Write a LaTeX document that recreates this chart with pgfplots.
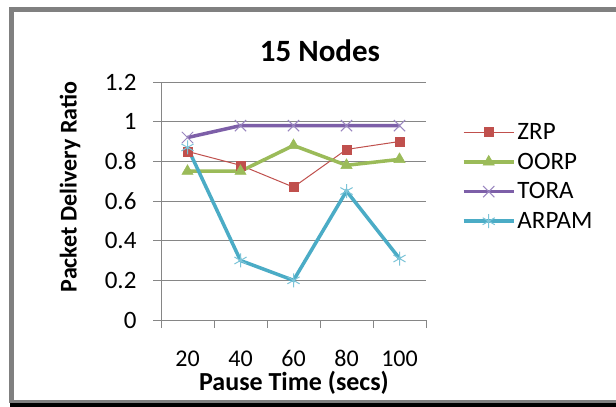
\documentclass[border=0pt]{standalone}
\usepackage{fontspec}
\setmainfont{Carlito}
\usepackage{pgfplots}
\pgfplotsset{compat=1.18}
\definecolor{zrp}{HTML}{C0504D}
\definecolor{oorp}{HTML}{9BBB59}
\definecolor{tora}{HTML}{7D5FA8}
\definecolor{toramark}{HTML}{9A86C0}
\definecolor{arpam}{HTML}{4BACC6}
\definecolor{arpammark}{HTML}{7CC4D8}
\definecolor{gridc}{HTML}{868686}
\definecolor{framec}{HTML}{808080}
\begin{document}
\begin{tikzpicture}
\path[use as bounding box] (0pt,0pt) rectangle (616pt,407pt);
\fill[white] (0pt,0pt) rectangle (616pt,407pt);
\fill[black] (10pt,0pt) rectangle (616pt,4pt);
\fill[framec] (9pt,4pt) rectangle (616pt,7pt);
\fill[framec] (9pt,4pt) rectangle (14pt,400pt);
\fill[framec] (9pt,395pt) rectangle (616pt,400pt);
\node[anchor=base, inner sep=0pt, font=\bfseries\fontsize{31}{36}\selectfont] at (320pt,345pt) {15 Nodes};
\node[rotate=90,font=\bfseries\fontsize{24}{28}\selectfont] at (70pt,220pt) {Packet Delivery Ratio};
\node[anchor=base, inner sep=0pt, font=\bfseries\fontsize{26}{30}\selectfont] at (294pt,16pt) {Pause Time (secs)};
\begin{axis}[
  at={(161pt,87pt)}, anchor=south west, scale only axis,
  width=265pt, height=238pt,
  xmin=-0.5, xmax=4.5, ymin=0, ymax=1.2,
  axis x line=bottom, axis y line=left,
  axis line style={-, draw=gridc, line width=0.8pt},
  tick align=outside,
  ytick={0,0.2,0.4,0.6,0.8,1,1.2},
  yticklabels={0,0.2,0.4,0.6,0.8,1,1.2},
  ymajorgrids, grid style={draw=gridc, line width=0.8pt},
  xtick={-0.5,0.5,1.5,2.5,3.5,4.5},
  xticklabels={},
  extra x ticks={0,1,2,3,4},
  extra x tick labels={20,40,60,80,100},
  extra x tick style={major tick length=0pt, xticklabel style={yshift=-27pt}},
  major tick length=8pt,
  tick style={draw=gridc, line width=0.8pt},
  /pgf/number format/assume math mode=true,
  xticklabel style={font=\fontsize{24}{28}\selectfont},
  yticklabel style={font=\fontsize{25}{29}\selectfont, xshift=-13pt},
  clip=false,
  legend style={draw=none, fill=none, at={(1.135,0.835)}, anchor=north west,
    inner sep=0pt, row sep=8pt, font=\fontsize{25}{29}\selectfont,
    nodes={inner sep=2pt}},
  legend cell align=left,
  legend image code/.code={\draw[#1, mark indices={2}] plot coordinates {(0pt,0pt) (25pt,0pt) (50pt,0pt)};},
]
\addplot[color=zrp, line width=1pt, mark=square*, mark size=4.5pt, mark options={solid, fill=zrp, draw=zrp, line width=0.5pt}]
  coordinates {(0,0.85) (1,0.78) (2,0.67) (3,0.86) (4,0.90)};
\addlegendentry{ZRP}
\addplot[color=oorp, line width=3.5pt, mark=triangle*, mark size=6.5pt, mark options={solid, fill=oorp, draw=oorp, line width=0.5pt}]
  coordinates {(0,0.75) (1,0.75) (2,0.88) (3,0.78) (4,0.81)};
\addlegendentry{OORP}
\addplot[color=tora, line width=3.5pt, mark=x, mark size=8pt, mark options={solid, draw=toramark, line width=1pt}]
  coordinates {(0,0.92) (1,0.98) (2,0.98) (3,0.98) (4,0.98)};
\addlegendentry{TORA}
\addplot[color=arpam, line width=3.5pt, mark=asterisk, mark size=7pt, mark options={solid, draw=arpammark, line width=1pt}]
  coordinates {(0,0.87) (1,0.30) (2,0.20) (3,0.65) (4,0.31)};
\addlegendentry{ARPAM}
\end{axis}
\end{tikzpicture}
\end{document}
